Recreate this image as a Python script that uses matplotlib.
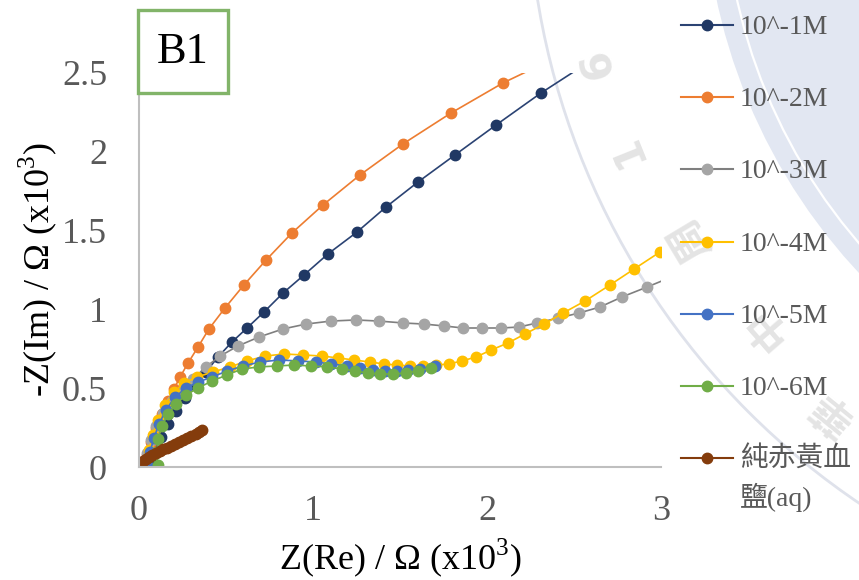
import matplotlib
matplotlib.use("Agg")
import matplotlib.pyplot as plt
from matplotlib.patches import Circle, Rectangle
from matplotlib.lines import Line2D
from matplotlib.transforms import IdentityTransform

plt.rcParams["font.family"] = ["Liberation Serif", "Noto Sans CJK TC"]
plt.rcParams["mathtext.fontset"] = "custom"
plt.rcParams["mathtext.rm"] = "Liberation Serif"

# Nyquist data, Z in kOhm
re_1 = [0.046, 0.063, 0.092, 0.126, 0.167, 0.213, 0.264, 0.322, 0.385, 0.454, 0.534, 0.621,
        0.718, 0.828, 0.948, 1.086, 1.253, 1.420, 1.603, 1.816, 2.052, 2.310, 2.60]
im_1 = [0.0, 0.038, 0.108, 0.190, 0.273, 0.355, 0.438, 0.520, 0.603, 0.698, 0.793, 0.882,
        0.983, 1.104, 1.218, 1.352, 1.491, 1.650, 1.808, 1.980, 2.170, 2.373, 2.58]

re_2 = [0.034, 0.046, 0.069, 0.098, 0.132, 0.167, 0.201, 0.236, 0.282, 0.339, 0.402, 0.494,
        0.603, 0.730, 0.879, 1.057, 1.270, 1.517, 1.793, 2.092, 2.42]
im_2 = [0.013, 0.076, 0.159, 0.247, 0.336, 0.419, 0.495, 0.571, 0.660, 0.761, 0.876, 1.009,
        1.155, 1.313, 1.485, 1.662, 1.853, 2.050, 2.246, 2.437, 2.61]

re_3 = [0.034, 0.046, 0.069, 0.098, 0.138, 0.190, 0.253, 0.310, 0.385, 0.466, 0.569, 0.690,
        0.828, 0.960, 1.103, 1.247, 1.379, 1.517, 1.638, 1.753, 1.862, 1.971, 2.080, 2.184,
        2.287, 2.408, 2.529, 2.649, 2.776, 2.920, 3.07]
im_3 = [0.025, 0.089, 0.171, 0.260, 0.343, 0.419, 0.489, 0.558, 0.635, 0.704, 0.768, 0.825,
        0.876, 0.907, 0.926, 0.933, 0.926, 0.914, 0.907, 0.895, 0.882, 0.882, 0.882, 0.888,
        0.914, 0.945, 0.977, 1.015, 1.079, 1.142, 1.21]

re_4 = [0.040, 0.057, 0.080, 0.109, 0.149, 0.201, 0.259, 0.333, 0.425, 0.523, 0.621, 0.724,
        0.833, 0.943, 1.052, 1.144, 1.236, 1.328, 1.408, 1.483, 1.557, 1.632, 1.707, 1.782,
        1.856, 1.937, 2.023, 2.121, 2.218, 2.328, 2.437, 2.563, 2.707, 2.845, 2.994, 3.10]
im_4 = [0.013, 0.108, 0.203, 0.298, 0.393, 0.476, 0.533, 0.571, 0.603, 0.635, 0.673, 0.704,
        0.717, 0.711, 0.704, 0.692, 0.679, 0.666, 0.654, 0.647, 0.641, 0.641, 0.647, 0.654,
        0.673, 0.698, 0.742, 0.787, 0.844, 0.907, 0.977, 1.053, 1.155, 1.256, 1.364, 1.44]

re_5 = [0.046, 0.063, 0.086, 0.115, 0.155, 0.207, 0.270, 0.339, 0.420, 0.506, 0.598, 0.695,
        0.805, 0.914, 1.017, 1.103, 1.195, 1.270, 1.345, 1.414, 1.483, 1.546, 1.615, 1.701]
im_5 = [0.013, 0.095, 0.184, 0.273, 0.362, 0.444, 0.501, 0.539, 0.571, 0.609, 0.641, 0.666,
        0.679, 0.673, 0.666, 0.654, 0.641, 0.628, 0.615, 0.609, 0.609, 0.615, 0.622, 0.641]

re_6 = [0.109, 0.103, 0.109, 0.132, 0.167, 0.213, 0.270, 0.339, 0.420, 0.506, 0.592, 0.690,
        0.793, 0.891, 0.989, 1.080, 1.167, 1.241, 1.316, 1.385, 1.460, 1.534, 1.603, 1.678]
im_6 = [0.013, 0.095, 0.178, 0.260, 0.336, 0.400, 0.457, 0.501, 0.546, 0.584, 0.622, 0.635,
        0.641, 0.647, 0.641, 0.635, 0.622, 0.609, 0.596, 0.590, 0.590, 0.596, 0.609, 0.628]

re_7 = [0.006, 0.011, 0.023, 0.040, 0.057, 0.075, 0.098, 0.121, 0.138, 0.161, 0.184, 0.207,
        0.230, 0.253, 0.276, 0.299, 0.328, 0.345, 0.362]
im_7 = [0.006, 0.025, 0.038, 0.051, 0.063, 0.076, 0.089, 0.102, 0.114, 0.121, 0.133, 0.146,
        0.159, 0.171, 0.184, 0.197, 0.209, 0.222, 0.235]

labels = ["10^-1M", "10^-2M", "10^-3M", "10^-4M", "10^-5M", "10^-6M", "純赤黃血\n鹽(aq)"]
marker_colors = ["#203864", "#ED7D31", "#A5A5A5", "#FFC000", "#4472C4", "#70AD47", "#843C0C"]
line_colors = ["#2B4373", "#ED7D31", "#7F7F7F", "#FFC000", "#4472C4", "#70AD47", "#843C0C"]

series = [(re_1, im_1), (re_2, im_2), (re_3, im_3), (re_4, im_4),
          (re_5, im_5), (re_6, im_6), (re_7, im_7)]

W, H = 859, 580
fig = plt.figure(figsize=(W / 100, H / 100), dpi=100)

# background seal watermark (pixel coordinates, origin bottom-left)
px = IdentityTransform()
cx, cy = 1280, H + 120
fig.add_artist(Circle((cx, cy), 576, transform=px, fc="#e2e7f2", ec="none", zorder=-10))
fig.add_artist(Circle((cx, cy), 556, transform=px, fill=False, ec="white", lw=1.6, zorder=-9))
fig.add_artist(Circle((cx, cy), 752, transform=px, fill=False, ec="#dfe2eb", lw=2.0, zorder=-9))
wm_chars = [("6", 598, 63, 105), ("1", 627, 150, 112), ("周", 690, 240, 121),
            ("中", 765, 327, 131), ("華", 832, 412, 141)]
for ch, x0, y0, rot in wm_chars:
    fig.text(x0 / W, 1 - y0 / H, ch, rotation=rot, ha="center", va="center",
             fontsize=30, fontweight="bold", color="#e4e4e4",
             family=["DejaVu Sans", "Noto Sans CJK TC"], zorder=-8)

ax = fig.add_axes([139 / W, 1 - 467 / H, 522 / W, 394 / H])
ax.set_facecolor("none")

for (x, y), mc, lc in zip(series, marker_colors, line_colors):
    ax.plot(x, y, color=lc, lw=1.2, marker="o", markersize=7.5,
            markerfacecolor=mc, markeredgecolor=mc)

ax.set_xlim(0, 3)
ax.set_ylim(0, 2.5)
ax.set_xticks([0, 1, 2, 3])
ax.set_yticks([0, 0.5, 1, 1.5, 2, 2.5])
ax.set_yticklabels(["0", "0.5", "1", "1.5", "2", "2.5"])
ax.tick_params(length=0, labelsize=26, labelcolor="#595959")
ax.tick_params(axis="x", pad=20)
ax.tick_params(axis="y", pad=23)
for side in ["top", "right"]:
    ax.spines[side].set_visible(False)
for side in ["left", "bottom"]:
    ax.spines[side].set_color("#BFBFBF")
    ax.spines[side].set_linewidth(1.5)

ax.set_xlabel("Z(Re) / Ω (x10$^{3}$)", fontsize=26, va="center")
ax.set_ylabel("-Z(Im) / Ω (x10$^{3}$)", fontsize=26, va="center")
ax.xaxis.set_label_coords(0.5, -(558 - 467) / 394)
ax.yaxis.set_label_coords((38 - 139) / 522, 0.5)

# legend on the right
for i, (lab, mc, lc) in enumerate(zip(labels, marker_colors, line_colors)):
    yp = 1 - (25 + i * 72.2) / H
    fig.add_artist(Line2D([681 / W, 733 / W], [yp, yp], color=lc, lw=1.5))
    fig.add_artist(Line2D([707 / W], [yp], marker="o", markersize=7.5,
                          color=mc, lw=0))
    for k, part in enumerate(lab.split("\n")):
        fig.text(740 / W, yp - (9 + 39 * k) / H, part, fontsize=20,
                 color="#595959", va="baseline", ha="left")

# B1 tag
fig.add_artist(Rectangle((138 / W, 1 - 93 / H), 90 / W, 83 / H,
                         transform=fig.transFigure, fc="white",
                         ec="#82B469", lw=2.4, zorder=2))
fig.text(183 / W, 1 - 52 / H, "B1", fontsize=32, ha="center", va="center",
         color="black", zorder=3)

fig.savefig("out.png", dpi=100)
